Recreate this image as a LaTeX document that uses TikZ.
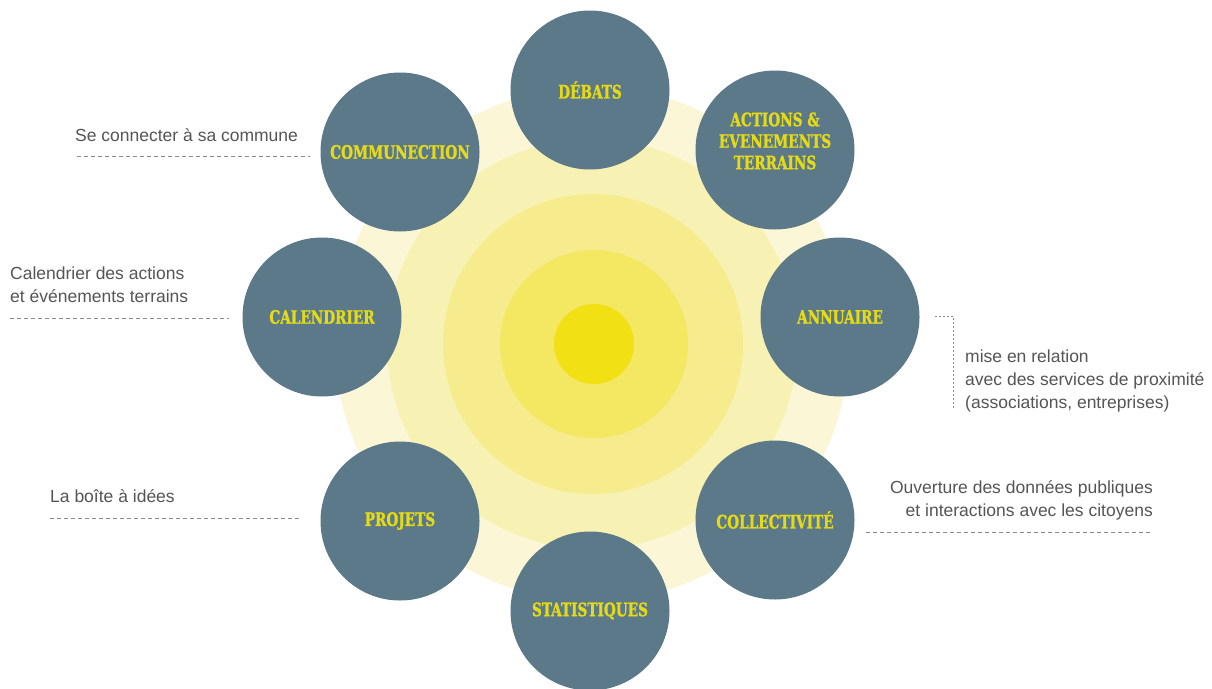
\documentclass[tikz,border=0pt]{standalone}
\usepackage{fontspec}
\setmainfont{Liberation Sans}
\newfontfamily\slabfont{DejaVu Serif Condensed}[BoldFont={DejaVu Serif Condensed Bold},BoldFeatures={FakeStretch=0.82,FakeBold=1.3}]
\definecolor{teal}{HTML}{5B7988}
\definecolor{ylab}{HTML}{E4DA17}
\definecolor{ring1}{HTML}{FBF7D6}
\definecolor{ring2}{HTML}{F8F1B4}
\definecolor{ring3}{HTML}{F6EC8E}
\definecolor{ring4}{HTML}{F4E762}
\definecolor{ring5}{HTML}{F1E013}
\definecolor{note}{HTML}{555555}
\definecolor{dash}{HTML}{8A8A8A}
\tikzset{
  sat/.style={circle, fill=teal, minimum size=159pt, inner sep=0pt, align=center,
    font=\slabfont\bfseries\fontsize{18.5}{21.5}\selectfont, text=ylab},
  ring/.style={circle, inner sep=0pt},
  notetext/.style={inner sep=0pt, font=\fontsize{17.5}{23}\selectfont, text=note},
  dashline/.style={draw=dash, line width=0.9pt, dash pattern=on 4pt off 3pt},
  dotline/.style={draw=dash, line width=0.9pt, dash pattern=on 2pt off 2pt}
}
\begin{document}
\begin{tikzpicture}[x=1pt,y=-1pt]
\useasboundingbox (0,0) rectangle (1212,688);
\fill[white] (0,0) rectangle (1212,688);
% concentric rings
\node[ring, fill=ring1, minimum size=514pt] (r1) at (592,344) {};
\node[ring, fill=ring2, minimum size=410pt] (r2) at (592,344) {};
\node[ring, fill=ring3, minimum size=300pt] (r3) at (593,344) {};
\node[ring, fill=ring4, minimum size=188pt] (r4) at (594,344) {};
\node[ring, fill=ring5, minimum size=80pt] (r5) at (594,344) {};
% satellites
\node[sat] (debats) at (590,90) {DÉBATS};
\node[sat] (actions) at (775,150) {};
\node[sat, fill=none] (actionslabel) at ([yshift=9pt]actions.center) {ACTIONS \&\\EVENEMENTS\\TERRAINS};
\node[sat] (commun) at (400,152) {COMMUNECTION};
\node[sat] (calend) at (322,317) {CALENDRIER};
\node[sat] (annu) at (840,317) {ANNUAIRE};
\node[sat] (projets) at (400,521) {PROJETS};
\node[sat] (collec) at (775,520) {COLLECTIVITÉ};
\node[sat] (stats) at (590,611) {STATISTIQUES};
% notes
\node[notetext, anchor=base west] (n1) at (75,141) {Se connecter à sa commune};
\coordinate (n1a) at (77,156); \coordinate (n1b) at (310,156);
\draw[dashline] (n1a) -- (n1b);

\node[notetext, anchor=base west, align=left] (n2) at (10,302) {Calendrier des actions\\et événements terrains};
\coordinate (n2a) at (10,318); \coordinate (n2b) at (229,318);
\draw[dashline] (n2a) -- (n2b);

\node[notetext, anchor=base west] (n3) at (50,502) {La boîte à idées};
\coordinate (n3a) at (50,518); \coordinate (n3b) at (301,518);
\draw[dashline] (n3a) -- (n3b);

\node[notetext, anchor=base west, align=left] (n4) at (965,408) {mise en relation\\avec des services de proximité\\(associations, entreprises)};
\coordinate (n4a) at (935,316); \coordinate (n4c) at (953,316); \coordinate (n4b) at (953,409);
\draw[dotline] (n4a) -- (n4c) -- (n4b);

\node[notetext, anchor=base east, align=right] (n5) at (1153,516) {Ouverture des données publiques\\et interactions avec les citoyens};
\coordinate (n5a) at (866,532); \coordinate (n5b) at (1153,532);
\draw[dashline] (n5a) -- (n5b);
\end{tikzpicture}
\end{document}
